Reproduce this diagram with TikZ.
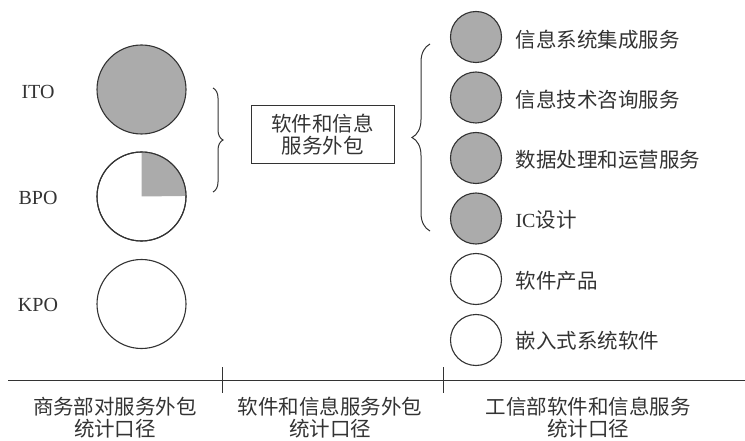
\documentclass[tikz,border=0pt]{standalone}
\usepackage{fontspec}
\setmainfont{Liberation Serif}
\newfontfamily\cjk{Noto Sans CJK SC}
\usetikzlibrary{decorations.pathreplacing}
\definecolor{ink}{HTML}{333333}
\definecolor{greyfill}{HTML}{ABABAB}
\begin{document}
\begin{tikzpicture}[x=1pt,y=-1pt,
  bigc/.style={circle,draw=ink,line width=1.1pt,minimum size=89pt,inner sep=0pt},
  smallc/.style={circle,draw=ink,line width=1.1pt,minimum size=51pt,inner sep=0pt},
  lat/.style={font=\fontsize{20}{24}\selectfont,text=ink},
  zh/.style={font=\fontsize{20.5}{25}\selectfont\cjk,text=ink,align=center},
  item/.style={font=\fontsize{20.5}{25}\selectfont\cjk,text=ink,anchor=west},
  br/.style={draw=ink,line width=1pt,decorate}]
\useasboundingbox (0,0) rectangle (745,441);
% left circles
\node[bigc,fill=greyfill] (ito) at (141.5,89.5) {};
\node[bigc] (bpo) at (141.5,196.5) {};
\fill[greyfill] (bpo.center) -- (bpo.north) arc[start angle=90,end angle=0,radius=44.5pt] -- cycle;
\node[bigc] (bpo2) at (141.5,196.5) {};
\node[bigc] (kpo) at (141.5,304) {};
\node[lat] (itol) at (38,92) {ITO};
\node[lat] (bpol) at (38,198) {BPO};
\node[lat] (kpol) at (38,305) {KPO};
% left brace
\coordinate (lb1) at (213,88);
\coordinate (lb2) at (213,192);
\draw[br,decoration={brace,amplitude=10pt}] (lb1) -- (lb2);
% middle box
\node[zh,draw=ink,line width=1pt,minimum width=143pt,minimum height=58pt,inner sep=2pt] (box) at (322.5,135) {软件和信息\\[-3pt]服务外包};
% right brace
\coordinate (rb1) at (430,231);
\coordinate (rb2) at (430,44);
\draw[br,decoration={brace,amplitude=18pt}] (rb1) -- (rb2);
% right circles
\node[smallc,fill=greyfill] (c1) at (476,37) {};
\node[smallc,fill=greyfill] (c2) at (476,97.5) {};
\node[smallc,fill=greyfill] (c3) at (476,158) {};
\node[smallc,fill=greyfill] (c4) at (476,218.5) {};
\node[smallc] (c5) at (476,279) {};
\node[smallc] (c6) at (476,340) {};
\node[item] (t1) at (512,40) {信息系统集成服务};
\node[item] (t2) at (512,100) {信息技术咨询服务};
\node[item] (t3) at (512,160) {数据处理和运营服务};
\node[item] (t4) at (512,220) {{\fontsize{20}{24}\selectfont\rmfamily IC}设计};
\node[item] (t5) at (512,281) {软件产品};
\node[item] (t6) at (512,341) {嵌入式系统软件};
% axis
\coordinate (a0) at (8,380);
\coordinate (a1) at (745,380);
\draw[ink,line width=1pt] (a0) -- (a1);
\coordinate (k1a) at (222,367);
\coordinate (k1b) at (222,393);
\coordinate (k2a) at (443,367);
\coordinate (k2b) at (443,393);
\draw[ink,line width=1pt] (k1a) -- (k1b);
\draw[ink,line width=1pt] (k2a) -- (k2b);
\node[zh] (b1) at (115,418) {商务部对服务外包\\[-3pt]统计口径};
\node[zh] (b2) at (330,418) {软件和信息服务外包\\[-3pt]统计口径};
\node[zh] (b3) at (588,418) {工信部软件和信息服务\\[-3pt]统计口径};
\end{tikzpicture}
\end{document}
